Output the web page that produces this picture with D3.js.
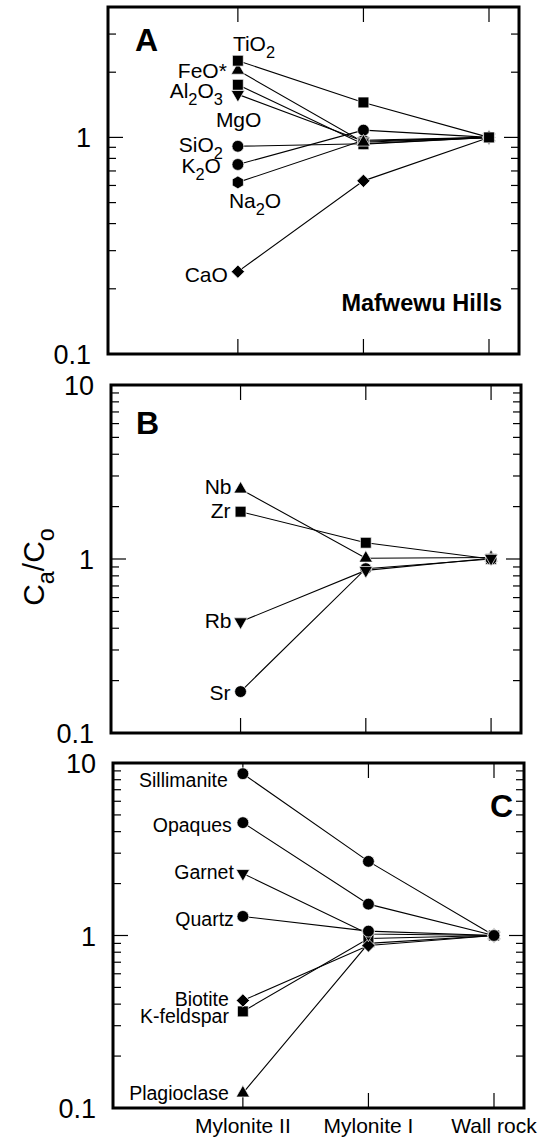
<!DOCTYPE html>
<html>
<head>
<meta charset="utf-8">
<script src="https://cdn.jsdelivr.net/npm/d3@7"></script>
<style>
  html, body { margin: 0; padding: 0; background: #fff; }
  svg { display: block; }
</style>
</head>
<body>
<svg id="fig" width="552" height="1142"></svg>
<script>
// Sample stages along the profile
const stages = ["Mylonite II", "Mylonite I", "Wall rock"];

// Panel A: major oxides (Ca/Co)
const oxides       = ["Na_2O", "K_2O", "SiO_2", "CaO", "MgO", "Al_2O_3", "FeO*", "TiO_2"];
const oxideSymbols = ["hexagon", "circle", "circle", "diamond", "triangleDown", "square", "triangle", "square"];
const oxideValues  = [
  [0.62, 0.97, 1.00],
  [0.75, 1.08, 1.00],
  [0.91, 0.935, 1.00],
  [0.24, 0.63, 1.00],
  [1.58, 0.96, 1.00],
  [1.75, 0.93, 1.00],
  [2.04, 0.95, 1.00],
  [2.26, 1.45, 1.00]
];

// Panel B: trace elements
const traces       = ["Nb", "Zr", "Sr", "Rb"];
const traceSymbols = ["triangle", "square", "circle", "triangleDown"];
const traceValues  = [
  [2.52, 1.01, 1.02],
  [1.87, 1.24, 1.00],
  [0.173, 0.88, 1.00],
  [0.436, 0.86, 1.01]
];

// Panel C: modal minerals
const minerals       = ["Plagioclase", "K-feldspar", "Biotite", "Garnet", "Quartz", "Opaques", "Sillimanite"];
const mineralSymbols = ["triangle", "square", "diamond", "triangleDown", "circle", "circle", "circle"];
const mineralValues  = [
  [0.122, 0.90, 1.00],
  [0.363, 0.96, 1.00],
  [0.42, 0.875, 1.00],
  [2.29, 1.02, 1.00],
  [1.29, 1.06, 1.00],
  [4.51, 1.52, 1.00],
  [8.67, 2.69, 1.00]
];

// Y tick labels
const yTickLabelsA = ["0.1", "1"];
const yTickLabelsB = ["0.1", "1", "10"];
const yTickLabelsC = ["0.1", "1", "10"];

const FONT = "'Liberation Sans', Arial, Helvetica, sans-serif";
const svg = d3.select("#fig");

// Label placement for each series, relative to its first point: [dx, dy, anchor]
const labelLayoutA = {
  "TiO_2": [-5, -10, "start"], "FeO*": [-11, 8, "end"], "Al_2O_3": [-15, 13, "end"],
  "MgO": [-22, 33, "start"], "SiO_2": [-15, 6, "end"], "K_2O": [-17, 9, "end"],
  "Na_2O": [-9, 26, "start"], "CaO": [-10, 10, "end"]
};
const labelLayoutB = { "Nb": [-9, 5, "end"], "Zr": [-10, 6, "end"], "Rb": [-9, 6, "end"], "Sr": [-10, 8, "end"] };
const labelLayoutC = {
  "Sillimanite": [-15, 13, "end"], "Opaques": [-11, 9, "end"], "Garnet": [-9, 6, "end"],
  "Quartz": [-9, 10, "end"], "Biotite": [-14, 6, "end"], "K-feldspar": [-14, 12, "end"],
  "Plagioclase": [-14, 7, "end"]
};

const panels = [
  { letter: "A", left: 108, right: 519, top: 7,   bottom: 354,  domain: [0.1, 4],  ticks: yTickLabelsA,
    names: oxides, symbols: oxideSymbols, values: oxideValues, layout: labelLayoutA, labelSize: 21,
    letterPos: [135, 51, "start"] },
  { letter: "B", left: 111, right: 521, top: 385, bottom: 733,  domain: [0.1, 10], ticks: yTickLabelsB,
    names: traces, symbols: traceSymbols, values: traceValues, layout: labelLayoutB, labelSize: 21,
    letterPos: [136, 434, "start"] },
  { letter: "C", left: 113, right: 524, top: 763, bottom: 1108, domain: [0.1, 10], ticks: yTickLabelsC,
    names: minerals, symbols: mineralSymbols, values: mineralValues, layout: labelLayoutC, labelSize: 19.5,
    letterPos: [513, 817, "end"] }
];

// Marker shapes
function markerPath(kind) {
  switch (kind) {
    case "square":       return d3.symbol(d3.symbolSquare, 118)();
    case "circle":       return d3.symbol(d3.symbolCircle, 110)();
    case "triangle":     return d3.symbol(d3.symbolTriangle, 78)();
    case "triangleDown": return d3.symbol(d3.symbolTriangle, 78)();
    case "diamond":      return d3.symbol(d3.symbolSquare, 88)();
    case "hexagon": {
      const r = 6.4, pts = d3.range(6).map(i => {
        const a = Math.PI / 6 + i * Math.PI / 3;
        return [r * Math.cos(a), r * Math.sin(a)];
      });
      return "M" + pts.map(p => p.join(",")).join("L") + "Z";
    }
  }
}
function markerRotation(kind) {
  if (kind === "triangleDown") return 180;
  if (kind === "diamond") return 45;
  return 0;
}

// Text with "_x" subscripts
function richText(g, label, x, y, size, anchor, weight) {
  const t = g.append("text")
    .attr("x", x).attr("y", y)
    .attr("text-anchor", anchor)
    .attr("font-family", FONT)
    .attr("font-size", size)
    .attr("font-weight", weight || "normal")
    .attr("fill", "#000");
  const parts = label.split(/_(\w)/);
  const shift = size * 0.33;
  let cur = 0;
  parts.forEach((p, i) => {
    if (p === "") return;
    const sub = i % 2 === 1;
    const target = sub ? shift : 0;
    const ts = t.append("tspan").text(p);
    if (target !== cur) ts.attr("dy", target - cur);
    if (sub) ts.attr("font-size", size * 0.78);
    cur = target;
  });
  return t;
}

panels.forEach(P => {
  const g = svg.append("g");
  const w = P.right - P.left;
  const x = d3.scalePoint().domain(stages)
    .range([P.left + 0.316 * w, P.left + 0.927 * w]);
  const y = d3.scaleLog().domain(P.domain).range([P.bottom, P.top]);

  // Log ticks along both vertical edges
  const minor = [];
  [0.1, 1].forEach(dec => d3.range(1, 10).forEach(k => minor.push(+(dec * k).toFixed(3))));
  minor.push(10);
  const tickVals = minor.filter(v => v >= P.domain[0] && v <= P.domain[1] + 1e-9);
  const isMajor = v => Math.abs(Math.log10(v) - Math.round(Math.log10(v))) < 1e-6;
  const ticks = g.append("g").attr("stroke", "#000").attr("stroke-width", 1.2);
  tickVals.forEach(v => {
    const len = isMajor(v) ? 15 : 8;
    ticks.append("line").attr("x1", P.left).attr("x2", P.left + len).attr("y1", y(v)).attr("y2", y(v));
    ticks.append("line").attr("x1", P.right).attr("x2", P.right - len).attr("y1", y(v)).attr("y2", y(v));
  });
  // Stage ticks on top and bottom edges
  stages.forEach(s => {
    ticks.append("line").attr("x1", x(s)).attr("x2", x(s)).attr("y1", P.top).attr("y2", P.top + 15);
    ticks.append("line").attr("x1", x(s)).attr("x2", x(s)).attr("y1", P.bottom).attr("y2", P.bottom - 15);
  });

  // Y tick labels
  P.ticks.forEach(lbl => {
    g.append("text")
      .attr("x", P.left - 17).attr("y", y(+lbl) + 10)
      .attr("text-anchor", "end")
      .attr("font-family", FONT).attr("font-size", 27)
      .text(lbl);
  });

  // Connecting lines
  const line = d3.line().x((d, i) => x(stages[i])).y(d => y(d));
  g.append("g").selectAll("path").data(P.values).join("path")
    .attr("d", line)
    .attr("fill", "none").attr("stroke", "#000").attr("stroke-width", 1.1);

  // Markers
  P.values.forEach((vals, si) => {
    const kind = P.symbols[si];
    vals.forEach((v, i) => {
      g.append("path")
        .attr("d", markerPath(kind))
        .attr("transform", `translate(${x(stages[i])},${y(v)}) rotate(${markerRotation(kind)})`)
        .attr("fill", "#000").attr("stroke", "#fff").attr("stroke-width", 0.7);
    });
  });

  // Series labels
  P.names.forEach((name, si) => {
    const [dx, dy, anchor] = P.layout[name];
    richText(g, name, x(stages[0]) + dx, y(P.values[si][0]) + dy, P.labelSize, anchor);
  });

  // Frame
  g.append("rect")
    .attr("x", P.left).attr("y", P.top)
    .attr("width", w).attr("height", P.bottom - P.top)
    .attr("fill", "none").attr("stroke", "#000").attr("stroke-width", 3);

  // Panel letter
  g.append("text")
    .attr("x", P.letterPos[0]).attr("y", P.letterPos[1])
    .attr("text-anchor", P.letterPos[2])
    .attr("font-family", FONT).attr("font-weight", "bold").attr("font-size", 32)
    .text(P.letter);

  if (P.letter === "A") {
    g.append("text")
      .attr("x", P.right - 17).attr("y", 311)
      .attr("text-anchor", "end")
      .attr("font-family", FONT).attr("font-weight", "bold").attr("font-size", 23.5)
      .text("Mafwewu Hills");
  }

  if (P.letter === "C") {
    stages.forEach(s => {
      g.append("text")
        .attr("x", x(s)).attr("y", 1133)
        .attr("text-anchor", "middle")
        .attr("font-family", FONT).attr("font-size", 21)
        .text(s);
    });
  }
});

// Y-axis title
const yt = svg.append("g").attr("transform", "translate(44,567) rotate(-90)");
richText(yt, "C_a/C_o", 0, 0, 30, "middle");
</script>
</body>
</html>
